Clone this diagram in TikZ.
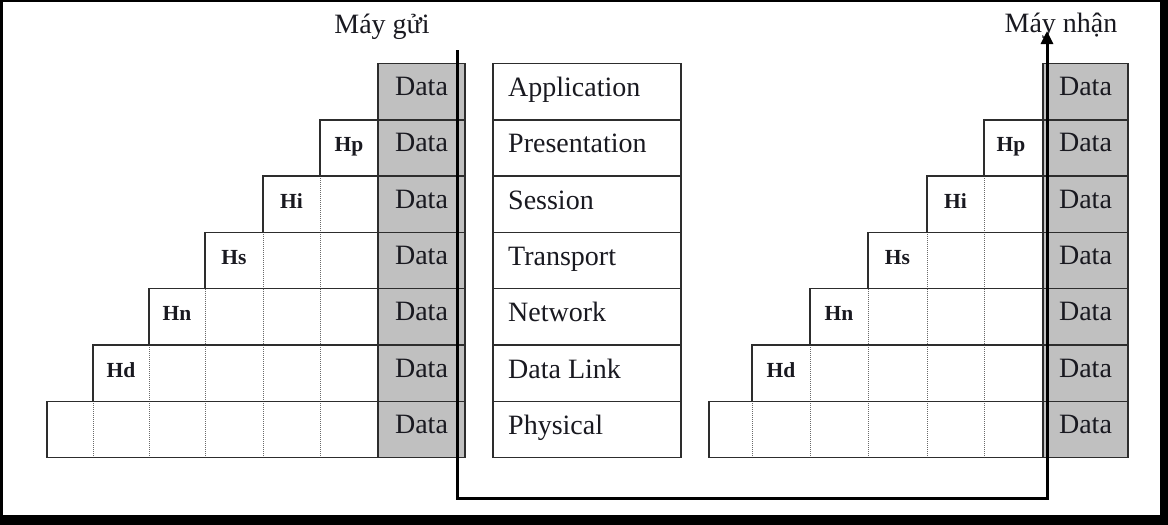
\documentclass[tikz,border=0pt]{standalone}
\usepackage{fontspec}
\setmainfont{Liberation Serif}
\usetikzlibrary{arrows.meta}
\definecolor{datagray}{RGB}{192,192,192}
\definecolor{ink}{RGB}{25,25,32}
\definecolor{rule}{RGB}{45,45,45}
\definecolor{dotc}{RGB}{105,105,105}
\begin{document}
\begin{tikzpicture}[x=1pt,y=-1pt,
  cellline/.style={draw=rule,line width=1.4pt},
  dotline/.style={draw=dotc,line width=1pt,dash pattern=on 1pt off 1pt},
  datacell/.style={draw=rule,line width=1.4pt,fill=datagray,minimum width=87pt,minimum height=56.3pt,inner sep=0pt,
     text height=18pt,text depth=10pt,font=\fontsize{28}{31}\selectfont,text=ink},
  hdr/.style={font=\fontsize{21.5}{25}\selectfont\bfseries,text=ink,anchor=base,inner sep=0pt},
  layerlbl/.style={font=\fontsize{28}{31}\selectfont,text=ink,anchor=base west,inner sep=0pt},
  toplbl/.style={font=\fontsize{28}{31}\selectfont,text=ink,anchor=base,inner sep=0pt},
  flow/.style={draw=black,line width=3pt,-{Triangle[length=13pt,width=12pt]}}]
\useasboundingbox (0,0) rectangle (1168,525);
\fill[black] (0,0) rectangle (1168,525);
\fill[white] (3,2) rectangle (1160,515);
% gray data columns
\foreach \k in {0,...,6}{
  \pgfmathsetmacro\yc{63.5+56.3*\k+28.15}
  \node[datacell] (LD\k) at (421.5,\yc) {Data};
  \node[datacell,minimum width=85pt] (RD\k) at (1085.5,\yc) {Data};
}
% left stack
\foreach \k/\xs/\hc/\lab in {1/320/349/Hp,2/263/291.5/Hi,3/205/234/Hs,4/149/177/Hn,5/93/121/Hd,6/47/70/{}}{
  \pgfmathsetmacro\yt{63.5+56.3*\k}
  \pgfmathsetmacro\yb{63.5+56.3*(\k+1)}
  \foreach \c in {93,149,205,263,320}{
    \ifdim \c pt>\xs pt \draw[dotline] (\c,\yt) -- (\c,\yb); \fi
  }
  \draw[cellline] (\xs,\yt) rectangle (378,\yb);
  \node[hdr] (LH\k) at (\hc,\yt+32) {\lab};
}
% right stack
\foreach \k/\xs/\hc/\lab in {1/984/1011/Hp,2/927/955.5/Hi,3/868/897.5/Hs,4/810/839/Hn,5/752/781/Hd,6/709/730/{}}{
  \pgfmathsetmacro\yt{63.5+56.3*\k}
  \pgfmathsetmacro\yb{63.5+56.3*(\k+1)}
  \foreach \c in {752,810,868,927,984}{
    \ifdim \c pt>\xs pt \draw[dotline] (\c,\yt) -- (\c,\yb); \fi
  }
  \draw[cellline] (\xs,\yt) rectangle (1043,\yb);
  \node[hdr] (RH\k) at (\hc,\yt+32) {\lab};
}
% middle OSI layers
\foreach \k/\lab in {0/Application,1/Presentation,2/Session,3/Transport,4/Network,5/Data Link,6/Physical}{
  \pgfmathsetmacro\yt{63.5+56.3*\k}
  \pgfmathsetmacro\yb{63.5+56.3*(\k+1)}
  \draw[cellline] (493,\yt) rectangle (681,\yb);
  \node[layerlbl] (M\k) at (508,\yt+33) {\lab};
}
% titles
\node[toplbl] (send) at (382,33) {Máy gửi};
\node[toplbl] (recv) at (1061,32) {Máy nhận};
% data flow arrow
\coordinate (s0) at (457,50);
\coordinate (r0) at (1047,31);
\coordinate (bot) at (0,498);
\draw[flow] (s0) -- (s0 |- bot) -- (r0 |- bot) -- (r0);
\end{tikzpicture}
\end{document}
